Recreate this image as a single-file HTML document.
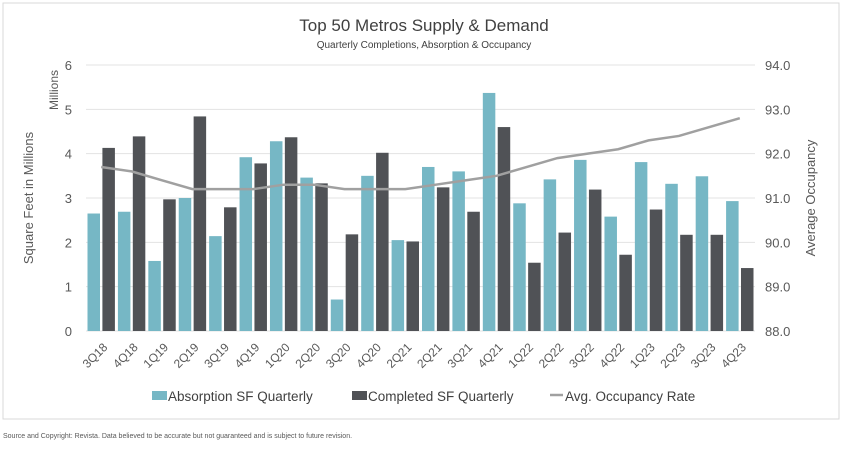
<!DOCTYPE html>
<html><head><meta charset="utf-8"><style>
body{margin:0;background:#fff;font-family:"Liberation Sans",sans-serif}
</style></head><body>
<svg id="c" width="849" height="447" xmlns="http://www.w3.org/2000/svg" font-family="Liberation Sans, sans-serif">
<rect x="3" y="3" width="836" height="416" fill="#fff" stroke="#d9d9d9"/>
<text x="424" y="31" text-anchor="middle" font-size="17" fill="#404040">Top 50 Metros Supply &amp; Demand</text>
<text x="424" y="48" text-anchor="middle" font-size="10" fill="#404040">Quarterly Completions, Absorption &amp; Occupancy</text>
<text transform="translate(33,198) rotate(-90)" text-anchor="middle" font-size="13" fill="#595959">Square Feet in Millions</text>
<text transform="translate(58,90) rotate(-90)" text-anchor="middle" font-size="12" fill="#595959">Millions</text>
<text transform="translate(815,198) rotate(-90)" text-anchor="middle" font-size="13" fill="#595959">Average Occupancy</text>
<g id="grid"></g><g id="bars"></g><g id="line"></g><g id="xl"></g>
<g>
<rect x="152" y="391" width="15" height="9" fill="#76b7c5"/>
<text x="168" y="401" font-size="13.5" fill="#404040">Absorption SF Quarterly</text>
<rect x="352" y="391" width="15" height="9" fill="#505256"/>
<text x="368" y="401" font-size="13.5" fill="#404040">Completed SF Quarterly</text>
<line x1="550" y1="395" x2="563" y2="395" stroke="#a0a0a0" stroke-width="2.5"/>
<text x="565" y="401" font-size="13.5" fill="#404040">Avg. Occupancy Rate</text>
</g>
<text x="3" y="438" font-size="7" fill="#595959">Source and Copyright: Revista. Data believed to be accurate but not guaranteed and is subject to future revision.</text>
</svg>
<script>
const categories=["3Q18","4Q18","1Q19","2Q19","3Q19","4Q19","1Q20","2Q20","3Q20","4Q20","2Q21","2Q21","3Q21","4Q21","1Q22","2Q22","3Q22","4Q22","1Q23","2Q23","3Q23","4Q23"];
const absorption=[2.65,2.69,1.58,3.0,2.14,3.92,4.28,3.46,0.71,3.50,2.05,3.70,3.60,5.37,2.88,3.42,3.86,2.58,3.81,3.32,3.49,2.93];
const completed=[4.13,4.39,2.97,4.84,2.79,3.78,4.37,3.33,2.18,4.02,2.02,3.24,2.69,4.60,1.54,2.22,3.19,1.72,2.74,2.17,2.17,1.42];
const occupancy=[91.7,91.6,91.4,91.2,91.2,91.2,91.3,91.3,91.2,91.2,91.2,91.3,91.4,91.5,91.7,91.9,92.0,92.1,92.3,92.4,92.6,92.8];
const leftTicks=[0,1,2,3,4,5,6];
const rightTicks=["88.0","89.0","90.0","91.0","92.0","93.0","94.0"];
const NS="http://www.w3.org/2000/svg";
const X0=86,X1=755,Y0=331,Y1=65;
const y=v=>Y0-(v/6)*(Y0-Y1);
const y2=v=>Y0-((v-88)/6)*(Y0-Y1);
const bw=(X1-X0)/categories.length;
const xc=i=>X0+bw*(i+0.5);
function mk(t,a,p){const e=document.createElementNS(NS,t);for(const k in a)e.setAttribute(k,a[k]);p.appendChild(e);return e;}
const grid=document.getElementById('grid');
leftTicks.forEach((t,i)=>{
 const l=mk('line',{x1:X0,x2:X1,y1:y(t),y2:y(t),stroke:'#e3e3e3','stroke-width':1},grid);
 
 
 const a=mk('text',{x:72,y:y(t)+5,'text-anchor':'end','font-size':13,fill:'#595959'},grid);a.textContent=t;
 
 
 const b=mk('text',{x:765,y:y(t)+5,'font-size':13,fill:'#595959'},grid);b.textContent=rightTicks[i];
 
 
});
const bars=document.getElementById('bars');
const w=12.5;
categories.forEach((c,i)=>{
 const a=mk('rect',{x:xc(i)-w-1.2,y:y(absorption[i]),width:w,height:Y0-y(absorption[i]),fill:'#76b7c5'},bars);
 
 
 const b=mk('rect',{x:xc(i)+1.2,y:y(completed[i]),width:w,height:Y0-y(completed[i]),fill:'#505256'},bars);
 
 
 const t=mk('text',{transform:`translate(${xc(i)+7},${348}) rotate(-45)`,'text-anchor':'end','font-size':12,fill:'#595959'},document.getElementById('xl'));
 t.textContent=c;
 
 
});
const pl=mk('polyline',{points:occupancy.map((v,i)=>xc(i)+','+y2(v)).join(' '),fill:'none',stroke:'#a0a0a0','stroke-width':2.5},document.getElementById('line'));


</script>
</body></html>
